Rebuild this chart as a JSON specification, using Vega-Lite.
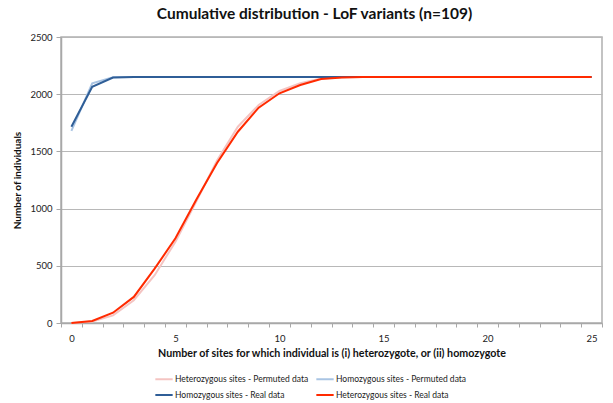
{
  "$schema": "https://vega.github.io/schema/vega-lite/v6.json",
  "width": 541,
  "height": 286,
  "autosize": {"type": "none"},
  "padding": {"left": 61, "top": 37, "right": 11, "bottom": 80},
  "background": "white",
  "config": {
    "font": "Lato",
    "view": {"stroke": "#b0b0b0", "strokeWidth": 1.5}
  },
  "title": {
    "text": "Cumulative distribution - LoF variants (n=109)",
    "font": "Lato",
    "fontSize": 15.5,
    "fontWeight": "bold",
    "color": "#111",
    "anchor": "middle",
    "dx": -17,
    "offset": 10
  },
  "datasets": {
    "d": [
      {"x": 0, "s": "Heterozygous sites - Permuted data", "v": 0},
      {"x": 1, "s": "Heterozygous sites - Permuted data", "v": 12},
      {"x": 2, "s": "Heterozygous sites - Permuted data", "v": 67},
      {"x": 3, "s": "Heterozygous sites - Permuted data", "v": 199},
      {"x": 4, "s": "Heterozygous sites - Permuted data", "v": 418},
      {"x": 5, "s": "Heterozygous sites - Permuted data", "v": 710},
      {"x": 6, "s": "Heterozygous sites - Permuted data", "v": 1062},
      {"x": 7, "s": "Heterozygous sites - Permuted data", "v": 1420},
      {"x": 8, "s": "Heterozygous sites - Permuted data", "v": 1716},
      {"x": 9, "s": "Heterozygous sites - Permuted data", "v": 1906},
      {"x": 10, "s": "Heterozygous sites - Permuted data", "v": 2028},
      {"x": 11, "s": "Heterozygous sites - Permuted data", "v": 2095},
      {"x": 12, "s": "Heterozygous sites - Permuted data", "v": 2138},
      {"x": 13, "s": "Heterozygous sites - Permuted data", "v": 2148},
      {"x": 14, "s": "Heterozygous sites - Permuted data", "v": 2150},
      {"x": 15, "s": "Heterozygous sites - Permuted data", "v": 2150},
      {"x": 16, "s": "Heterozygous sites - Permuted data", "v": 2150},
      {"x": 17, "s": "Heterozygous sites - Permuted data", "v": 2150},
      {"x": 18, "s": "Heterozygous sites - Permuted data", "v": 2150},
      {"x": 19, "s": "Heterozygous sites - Permuted data", "v": 2150},
      {"x": 20, "s": "Heterozygous sites - Permuted data", "v": 2150},
      {"x": 21, "s": "Heterozygous sites - Permuted data", "v": 2150},
      {"x": 22, "s": "Heterozygous sites - Permuted data", "v": 2150},
      {"x": 23, "s": "Heterozygous sites - Permuted data", "v": 2150},
      {"x": 24, "s": "Heterozygous sites - Permuted data", "v": 2150},
      {"x": 25, "s": "Heterozygous sites - Permuted data", "v": 2150},
      {"x": 0, "s": "Homozygous sites - Permuted data", "v": 1680},
      {"x": 1, "s": "Homozygous sites - Permuted data", "v": 2095},
      {"x": 2, "s": "Homozygous sites - Permuted data", "v": 2148},
      {"x": 3, "s": "Homozygous sites - Permuted data", "v": 2150},
      {"x": 4, "s": "Homozygous sites - Permuted data", "v": 2150},
      {"x": 5, "s": "Homozygous sites - Permuted data", "v": 2150},
      {"x": 6, "s": "Homozygous sites - Permuted data", "v": 2150},
      {"x": 7, "s": "Homozygous sites - Permuted data", "v": 2150},
      {"x": 8, "s": "Homozygous sites - Permuted data", "v": 2150},
      {"x": 9, "s": "Homozygous sites - Permuted data", "v": 2150},
      {"x": 10, "s": "Homozygous sites - Permuted data", "v": 2150},
      {"x": 11, "s": "Homozygous sites - Permuted data", "v": 2150},
      {"x": 12, "s": "Homozygous sites - Permuted data", "v": 2150},
      {"x": 13, "s": "Homozygous sites - Permuted data", "v": 2150},
      {"x": 14, "s": "Homozygous sites - Permuted data", "v": 2150},
      {"x": 15, "s": "Homozygous sites - Permuted data", "v": 2150},
      {"x": 16, "s": "Homozygous sites - Permuted data", "v": 2150},
      {"x": 17, "s": "Homozygous sites - Permuted data", "v": 2150},
      {"x": 18, "s": "Homozygous sites - Permuted data", "v": 2150},
      {"x": 19, "s": "Homozygous sites - Permuted data", "v": 2150},
      {"x": 20, "s": "Homozygous sites - Permuted data", "v": 2150},
      {"x": 21, "s": "Homozygous sites - Permuted data", "v": 2150},
      {"x": 22, "s": "Homozygous sites - Permuted data", "v": 2150},
      {"x": 23, "s": "Homozygous sites - Permuted data", "v": 2150},
      {"x": 24, "s": "Homozygous sites - Permuted data", "v": 2150},
      {"x": 25, "s": "Homozygous sites - Permuted data", "v": 2150},
      {"x": 0, "s": "Homozygous sites - Real data", "v": 1715},
      {"x": 1, "s": "Homozygous sites - Real data", "v": 2065},
      {"x": 2, "s": "Homozygous sites - Real data", "v": 2145},
      {"x": 3, "s": "Homozygous sites - Real data", "v": 2150},
      {"x": 4, "s": "Homozygous sites - Real data", "v": 2150},
      {"x": 5, "s": "Homozygous sites - Real data", "v": 2150},
      {"x": 6, "s": "Homozygous sites - Real data", "v": 2150},
      {"x": 7, "s": "Homozygous sites - Real data", "v": 2150},
      {"x": 8, "s": "Homozygous sites - Real data", "v": 2150},
      {"x": 9, "s": "Homozygous sites - Real data", "v": 2150},
      {"x": 10, "s": "Homozygous sites - Real data", "v": 2150},
      {"x": 11, "s": "Homozygous sites - Real data", "v": 2150},
      {"x": 12, "s": "Homozygous sites - Real data", "v": 2150},
      {"x": 13, "s": "Homozygous sites - Real data", "v": 2150},
      {"x": 14, "s": "Homozygous sites - Real data", "v": 2150},
      {"x": 15, "s": "Homozygous sites - Real data", "v": 2150},
      {"x": 16, "s": "Homozygous sites - Real data", "v": 2150},
      {"x": 17, "s": "Homozygous sites - Real data", "v": 2150},
      {"x": 18, "s": "Homozygous sites - Real data", "v": 2150},
      {"x": 19, "s": "Homozygous sites - Real data", "v": 2150},
      {"x": 20, "s": "Homozygous sites - Real data", "v": 2150},
      {"x": 21, "s": "Homozygous sites - Real data", "v": 2150},
      {"x": 22, "s": "Homozygous sites - Real data", "v": 2150},
      {"x": 23, "s": "Homozygous sites - Real data", "v": 2150},
      {"x": 24, "s": "Homozygous sites - Real data", "v": 2150},
      {"x": 25, "s": "Homozygous sites - Real data", "v": 2150},
      {"x": 0, "s": "Heterozygous sites - Real data", "v": 0},
      {"x": 1, "s": "Heterozygous sites - Real data", "v": 18},
      {"x": 2, "s": "Heterozygous sites - Real data", "v": 90},
      {"x": 3, "s": "Heterozygous sites - Real data", "v": 228},
      {"x": 4, "s": "Heterozygous sites - Real data", "v": 475},
      {"x": 5, "s": "Heterozygous sites - Real data", "v": 740},
      {"x": 6, "s": "Heterozygous sites - Real data", "v": 1078},
      {"x": 7, "s": "Heterozygous sites - Real data", "v": 1398},
      {"x": 8, "s": "Heterozygous sites - Real data", "v": 1672},
      {"x": 9, "s": "Heterozygous sites - Real data", "v": 1882},
      {"x": 10, "s": "Heterozygous sites - Real data", "v": 2008},
      {"x": 11, "s": "Heterozygous sites - Real data", "v": 2080},
      {"x": 12, "s": "Heterozygous sites - Real data", "v": 2132},
      {"x": 13, "s": "Heterozygous sites - Real data", "v": 2145},
      {"x": 14, "s": "Heterozygous sites - Real data", "v": 2150},
      {"x": 15, "s": "Heterozygous sites - Real data", "v": 2150},
      {"x": 16, "s": "Heterozygous sites - Real data", "v": 2150},
      {"x": 17, "s": "Heterozygous sites - Real data", "v": 2150},
      {"x": 18, "s": "Heterozygous sites - Real data", "v": 2150},
      {"x": 19, "s": "Heterozygous sites - Real data", "v": 2150},
      {"x": 20, "s": "Heterozygous sites - Real data", "v": 2150},
      {"x": 21, "s": "Heterozygous sites - Real data", "v": 2150},
      {"x": 22, "s": "Heterozygous sites - Real data", "v": 2150},
      {"x": 23, "s": "Heterozygous sites - Real data", "v": 2150},
      {"x": 24, "s": "Heterozygous sites - Real data", "v": 2150},
      {"x": 25, "s": "Heterozygous sites - Real data", "v": 2150}
    ]
  },
  "data": {"name": "d"},
  "encoding": {
    "x": {
      "field": "x",
      "type": "quantitative",
      "scale": {"domain": [-0.5, 25.5], "nice": false, "zero": false},
      "axis": {
        "title": "Number of sites for which individual is (i) heterozygote, or (ii) homozygote",
        "titleFont": "Lato",
        "titleFontSize": 10.7,
        "titleFontWeight": "bold",
        "titleColor": "#111",
        "titlePadding": 6,
        "values": [-0.5, 0.5, 1.5, 2.5, 3.5, 4.5, 5.5, 6.5, 7.5, 8.5, 9.5, 10.5, 11.5, 12.5, 13.5, 14.5, 15.5, 16.5, 17.5, 18.5, 19.5, 20.5, 21.5, 22.5, 23.5, 24.5, 25.5],
        "labelExpr": "(datum.value + 0.5) % 5 == 0 ? format(datum.value + 0.5, 'd') : ''",
        "labelOffset": 10.4,
        "labelFont": "Lato",
        "labelFontSize": 9.5,
        "labelColor": "#222",
        "labelPadding": 6,
        "labelFlush": false,
        "labelOverlap": false,
        "tickSize": 4,
        "tickColor": "#a8a8a8",
        "domainColor": "#a8a8a8",
        "domainWidth": 1.5,
        "grid": false
      }
    },
    "y": {
      "field": "v",
      "type": "quantitative",
      "scale": {"domain": [0, 2500], "nice": false},
      "axis": {
        "title": "Number of individuals",
        "titleFont": "Lato",
        "titleFontSize": 10,
        "titleFontWeight": "bold",
        "titleColor": "#111",
        "titlePadding": 7,
        "values": [0, 500, 1000, 1500, 2000, 2500],
        "format": "d",
        "labelFont": "Lato",
        "labelFontSize": 9.5,
        "labelColor": "#222",
        "labelPadding": 4,
        "tickSize": 5,
        "tickColor": "#a8a8a8",
        "domainColor": "#a8a8a8",
        "domainWidth": 1.5,
        "grid": true,
        "gridColor": "#b8b8b8",
        "gridWidth": 1.2
      }
    },
    "color": {
      "field": "s",
      "type": "nominal",
      "scale": {
        "domain": ["Heterozygous sites - Permuted data", "Homozygous sites - Permuted data", "Homozygous sites - Real data", "Heterozygous sites - Real data"],
        "range": ["#f4c4c2", "#a9c4e3", "#2f5e97", "#ff2a00"]
      },
      "legend": {
        "title": null,
        "orient": "none",
        "legendX": 93,
        "legendY": 332,
        "columns": 2,
        "direction": "horizontal",
        "symbolType": "stroke",
        "symbolSize": 300,
        "symbolStrokeWidth": 2,
        "labelFont": "Lato",
        "labelFontSize": 8.5,
        "labelColor": "#222",
        "labelOffset": 1,
        "rowPadding": 1,
        "columnPadding": 3
      }
    }
  },
  "layer": [
    {"transform": [{"filter": "datum.s == 'Heterozygous sites - Permuted data'"}], "mark": {"type": "line", "strokeWidth": 2}},
    {"transform": [{"filter": "datum.s == 'Homozygous sites - Permuted data'"}], "mark": {"type": "line", "strokeWidth": 2}},
    {"transform": [{"filter": "datum.s == 'Homozygous sites - Real data'"}], "mark": {"type": "line", "strokeWidth": 2}},
    {"transform": [{"filter": "datum.s == 'Heterozygous sites - Real data'"}], "mark": {"type": "line", "strokeWidth": 2}}
  ]
}
